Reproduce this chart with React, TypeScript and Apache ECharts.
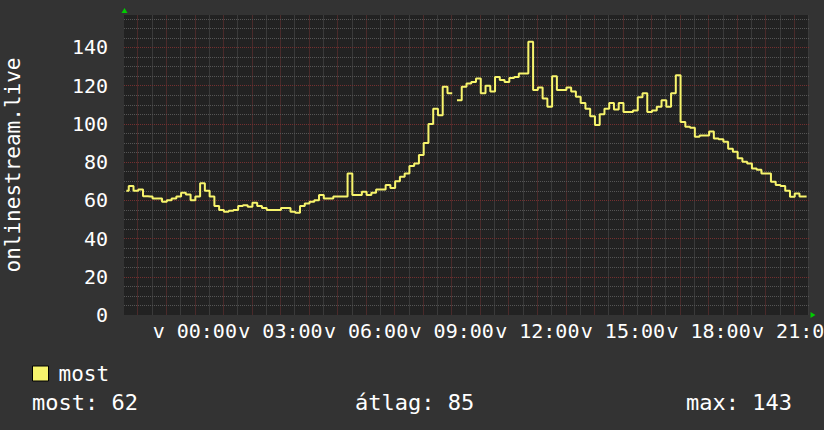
import React, { useEffect, useRef } from "react";
import * as echarts from "echarts";

// ---- data ----
const FONT = "'DejaVu Sans Mono', monospace";
const START_HOUR = -2.48; // left edge of the plot, hours relative to Sunday 00:00
const SPAN_HOURS = 24;
const STEP_HOURS = 10 / 60; // one value every 10 minutes
const SERIES_NAME = "most";
const Y_AXIS_TITLE = "onlinestream.live";
const X_TICK_HOURS = [0, 3, 6, 9, 12, 15, 18, 21];
const X_TICK_LABELS = ["v 00:00", "v 03:00", "v 06:00", "v 09:00", "v 12:00", "v 15:00", "v 18:00", "v 21:00"];
const Y_MAX = 157;
const STAT_LABELS = ["most", "átlag", "max"];
const STAT_VALUES = [62, 85, 143];

const VALUES: (number | null)[] = [
  65, 67.5, 65, 65.7, 62.2, 62, 61, 61, 59.3, 60,
  61, 62, 64, 63, 60, 62, 69, 65, 62, 57,
  55, 54, 54.5, 55, 57, 57.5, 56.6, 58.7, 57, 56,
  55, 55, 55, 56, 56, 54, 53.5, 57, 58.4, 59.3,
  60, 62.8, 61, 61, 62, 62, 62, 74, 62.8, 62.8,
  64.5, 62.8, 64, 65.7, 65.7, 68, 66.5, 70, 72.3, 74,
  78, 79.3, 83.7, 90, 100, 108, 104.6, 119.4, 116, null,
  112.4, 119.4, 121.2, 122, 123.8, 116, 120, 117, 124.6, 123,
  122, 124, 124.5, 126.4, 126.4, 143, 117.7, 119, 113.3, 109,
  125, 117.7, 117.7, 119, 117, 114.2, 111, 108, 104, 99.4,
  105, 108, 111, 107.6, 111, 106.3, 106.3, 107, 114, 116,
  106.3, 107, 109, 112.4, 109, 116, 125.5, 101, 98.5, 98,
  93.3, 94, 94, 96, 92.4, 92, 90.7, 87, 85.4, 82,
  80.2, 79.3, 76.7, 76, 74.1, 74, 69.7, 68, 67.5, 65,
  61.9, 63.6, 62, 62,
];

// ---- styles ----
const BG = "#333333";
const CANVAS = "#222222";
const MINOR = "#555555";
const MAJOR = "#743030";
const MINOR_V = "#3a3a3a";
const MAJOR_V = "#4a2a2a";
const LINE = "#f7f46c";
const ARROW = "#00cc00";

const GRID = { left: 124, top: 15, width: 685, height: 300 };

export default function App() {
  const ref = useRef<HTMLDivElement>(null);

  useEffect(() => {
    document.body.style.margin = "0";
    if (!ref.current) return;
    const chart = echarts.init(ref.current, null, { renderer: "svg" });

    const xMin = START_HOUR;
    const xMax = START_HOUR + SPAN_HOURS;
    const data = VALUES.map((v, i) => [START_HOUR + (i + 0.5) * STEP_HOURS, v]);

    const yBase = {
      type: "value" as const,
      min: 0,
      max: Y_MAX,
      position: "left" as const,
      axisLine: { show: false },
      axisTick: { show: false },
      axisLabel: { show: false },
      splitLine: { show: false },
    };

    const labelFor = (v: number) => {
      const idx = X_TICK_HOURS.findIndex((h) => Math.abs(h - v) < 1e-6);
      return idx >= 0 ? X_TICK_LABELS[idx] : "";
    };

    const option: any = {
      animation: false,
      backgroundColor: BG,
      textStyle: { fontFamily: FONT },
      grid: {
        ...GRID,
        show: true,
        backgroundColor: CANVAS,
        borderWidth: 0,
        containLabel: false,
        outerBoundsMode: "none",
      },
      legend: {
        data: [SERIES_NAME],
        left: 32,
        top: 363,
        padding: 0,
        icon: "rect",
        itemWidth: 16,
        itemHeight: 15,
        itemStyle: { borderColor: "#000000", borderWidth: 1 },
        textStyle: { color: "#ffffff", fontFamily: FONT, fontSize: 21, padding: [0, 0, 0, 5] },
      },
      xAxis: {
        type: "value",
        min: xMin,
        max: xMax,
        position: "bottom",
        z: 1,
        minInterval: 0.5,
        maxInterval: 0.5,
        axisLine: { show: false },
        axisTick: { show: false },
        splitLine: {
          show: true,
          showMinLine: false,
          showMaxLine: false,
          lineStyle: { color: [MAJOR_V, MINOR_V], width: 1, type: "solid" },
        },
        axisLabel: {
          show: true,
          showMinLabel: false,
          showMaxLabel: false,
          color: "#ffffff",
          fontFamily: FONT,
          fontSize: 20,
          margin: 6,
          formatter: labelFor,
        },
      },
      yAxis: [
        {
          ...yBase,
          minInterval: 5,
          maxInterval: 5,
          z: 2,
          splitLine: {
            show: true,
            showMinLine: false,
            showMaxLine: false,
            lineStyle: { color: MINOR, width: 1, type: [1, 1] },
          },
        },
        {
          ...yBase,
          minInterval: 20,
          maxInterval: 20,
          z: 2,
          splitLine: {
            show: true,
            showMinLine: false,
            showMaxLine: false,
            lineStyle: { color: MAJOR, width: 1, type: [1, 1] },
          },
          axisLabel: {
            show: true,
            showMaxLabel: false,
            color: "#ffffff",
            fontFamily: FONT,
            fontSize: 20,
            margin: 16,
          },
        },
      ],
      series: [
        {
          name: SERIES_NAME,
          type: "line",
          xAxisIndex: 0,
          yAxisIndex: 0,
          data,
          step: "middle",
          showSymbol: false,
          connectNulls: false,
          lineStyle: { color: LINE, width: 2 },
          itemStyle: { color: LINE },
          z: 5,
        },
      ],
      graphic: [
        {
          type: "text",
          x: 13,
          y: 165,
          rotation: Math.PI / 2,
          style: {
            text: Y_AXIS_TITLE,
            fill: "#ffffff",
            font: `21px ${FONT}`,
            textAlign: "center",
            textVerticalAlign: "middle",
          },
        },
        ...STAT_LABELS.map((lab, i) => ({
          type: "text",
          x: [32, 355, 792][i],
          y: 402,
          style: {
            text: `${lab}: ${STAT_VALUES[i]}`,
            fill: "#ffffff",
            font: `22px ${FONT}`,
            textAlign: ["left", "left", "right"][i],
            textVerticalAlign: "middle",
          },
        })),
        {
          type: "polygon",
          shape: { points: [[121.5, 13], [127.5, 13], [124.5, 8]] },
          style: { fill: ARROW },
        },
        {
          type: "polygon",
          shape: { points: [[810.5, 312], [810.5, 318], [815.5, 315]] },
          style: { fill: ARROW },
        },
      ],
    };

    chart.setOption(option);
    return () => chart.dispose();
  }, []);

  return (
    <div
      ref={ref}
      style={{ position: "fixed", left: 0, top: 0, width: 824, height: 430 }}
    />
  );
}
